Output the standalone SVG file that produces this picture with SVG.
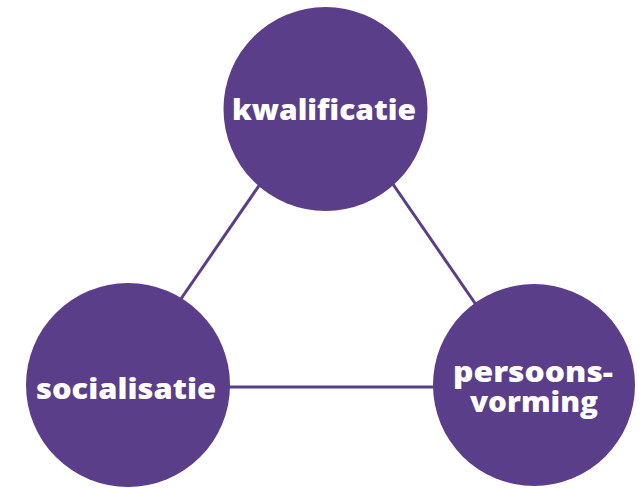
<svg xmlns="http://www.w3.org/2000/svg" width="643" height="488" viewBox="0 0 643 488">
<style>
.node{fill:#5b3e8a}
.lbl{fill:#fff;font-family:"Open Sans","Noto Sans",sans-serif;font-weight:800;font-size:28px;text-anchor:middle}
.edge{stroke:#5b3e8a;stroke-width:3;fill:none}
</style>
<rect width="643" height="488" fill="#fff"/>
<g id="connectors">
<line class="edge" x1="276" y1="161" x2="165" y2="322"/>
<line class="edge" x1="377" y1="161" x2="490" y2="325"/>
<line class="edge" x1="200" y1="387" x2="460" y2="387"/>
</g>
<g id="kwalificatie">
<circle class="node" cx="325.5" cy="109" r="102"/>
<text class="lbl" x="324" y="120" textLength="184" lengthAdjust="spacingAndGlyphs">kwalificatie</text>
</g>
<g id="socialisatie">
<circle class="node" cx="128" cy="385" r="102"/>
<text class="lbl" x="126" y="399" textLength="180" lengthAdjust="spacingAndGlyphs">socialisatie</text>
</g>
<g id="persoonsvorming">
<circle class="node" cx="534" cy="385" r="101"/>
<text class="lbl" x="533" y="382" textLength="160" lengthAdjust="spacingAndGlyphs">persoons-</text>
<text class="lbl" x="534" y="412" textLength="128" lengthAdjust="spacingAndGlyphs">vorming</text>
</g>
</svg>
